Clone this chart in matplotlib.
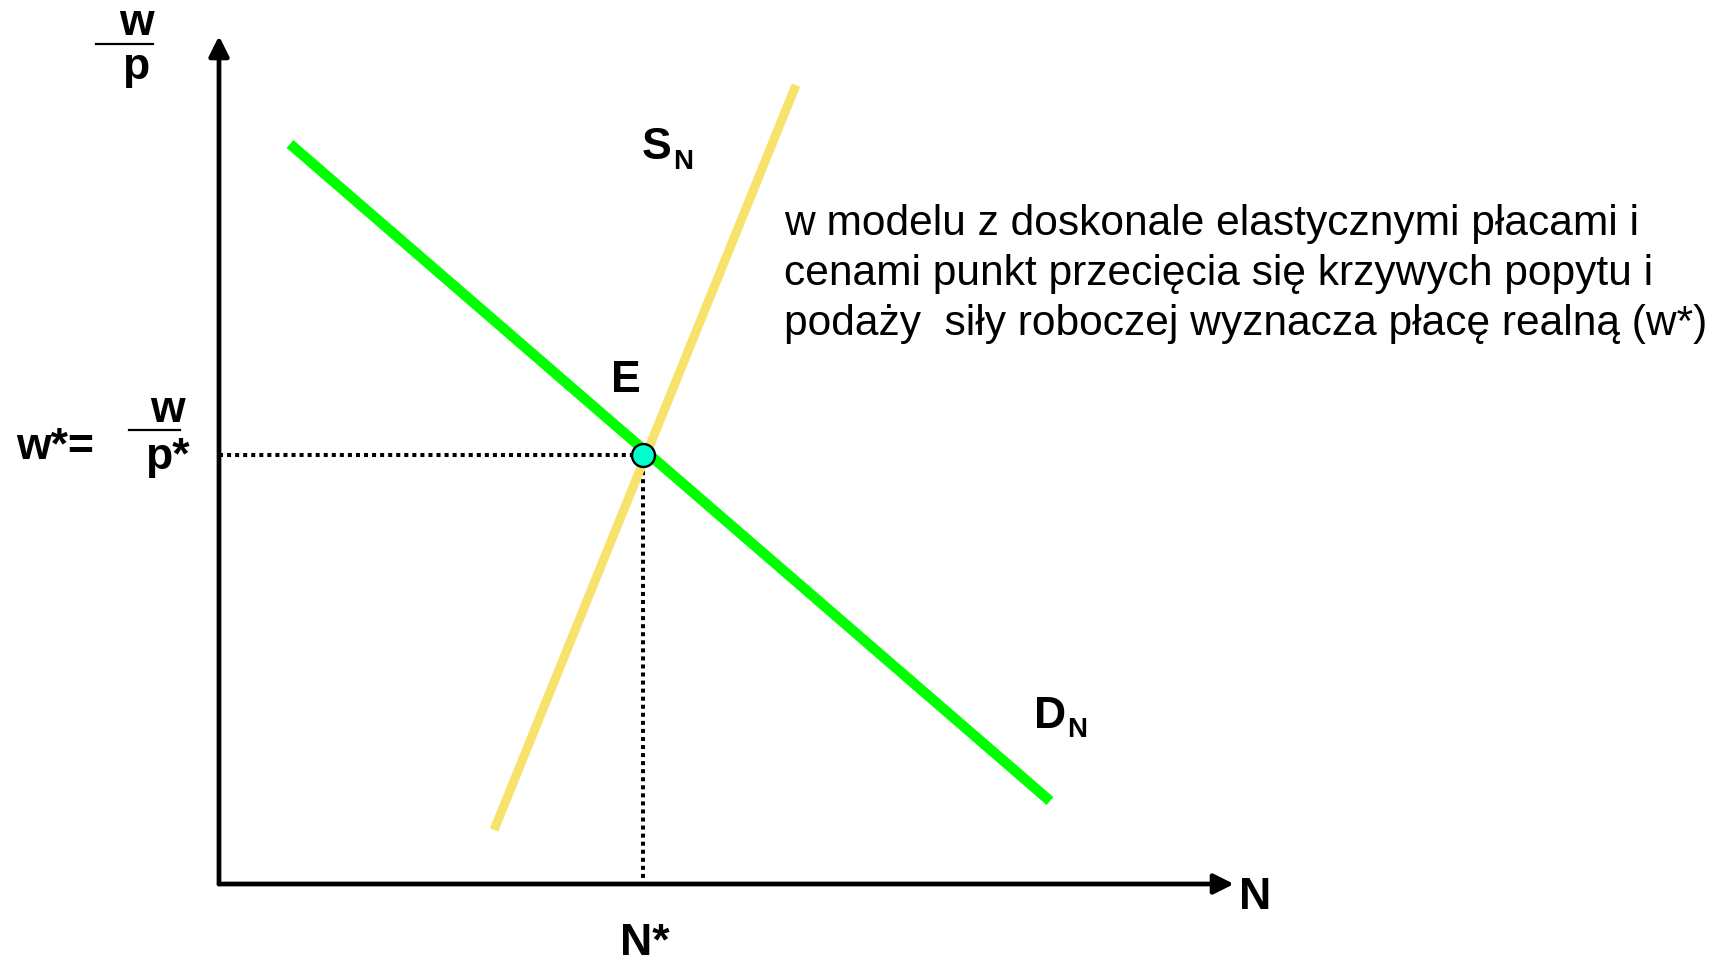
import matplotlib
matplotlib.use("Agg")
import matplotlib.pyplot as plt
import numpy as np

# Data (abstract units; origin at axes corner)
demand_N = [0.71, 8.31]
demand_wp = [7.40, 0.83]
supply_N = [2.75, 5.77]
supply_wp = [0.54, 7.99]
eq_N = 4.24
eq_wp = 4.29
x_axis_end = 10.15
y_axis_end = 8.48

labels_main = {"E": "E", "N": "N", "Nstar": "N*"}
text_block = ("w modelu z doskonale elastycznymi płacami i\n"
              "cenami punkt przecięcia się krzywych popytu i\n"
              "podaży  siły roboczej wyznacza płacę realną (w*)")

fig = plt.figure(figsize=(17.15, 9.63), dpi=100)
ax = fig.add_axes([0, 0, 1, 1])
ax.set_xlim(-2.19, 14.96)
ax.set_ylim(-0.79, 8.84)
ax.axis("off")

bold = dict(family="Liberation Sans", fontweight="bold", color="black")

# axes arrows
ax.annotate("", xy=(x_axis_end, 0), xytext=(0, 0),
            arrowprops=dict(arrowstyle="-|>", lw=3.4, color="black",
                            mutation_scale=30, shrinkA=0, shrinkB=0))
ax.annotate("", xy=(0, y_axis_end), xytext=(0, 0),
            arrowprops=dict(arrowstyle="-|>", lw=3.4, color="black",
                            mutation_scale=30, shrinkA=0, shrinkB=0))

# curves
ax.plot(supply_N, supply_wp, color="#F7E36B", lw=6.5, solid_capstyle="butt", zorder=3)
ax.plot(demand_N, demand_wp, color="#00FF00", lw=7.5, solid_capstyle="butt", zorder=4)

# dotted guides
ax.plot([0, eq_N], [eq_wp, eq_wp], color="black", lw=2.9, linestyle=(0, (1, 1)), zorder=2)
ax.plot([eq_N, eq_N], [eq_wp, 0], color="black", lw=2.9, linestyle=(0, (1, 1)), zorder=2)

# equilibrium point
ax.plot([eq_N], [eq_wp], marker="o", markersize=16.5, markerfacecolor="#00FFCC",
        markeredgecolor="black", markeredgewidth=1.7, zorder=6)

# labels
ax.text(4.07, 5.03, labels_main["E"], fontsize=32, ha="center", va="center", **bold)
ax.text(10.36, -0.13, labels_main["N"], fontsize=32, ha="center", va="center", **bold)
ax.text(4.26, -0.59, labels_main["Nstar"], fontsize=32, ha="center", va="center", **bold)

ax.text(4.38, 7.36, "S", fontsize=32, ha="center", va="center", **bold)
ax.text(4.64, 7.22, "N", fontsize=20, ha="center", va="center", **bold)
ax.text(8.31, 1.68, "D", fontsize=32, ha="center", va="center", **bold)
ax.text(8.58, 1.54, "N", fontsize=20, ha="center", va="center", **bold)

# y-axis label w/p
ax.text(-0.83, 8.60, "w", fontsize=32, ha="center", va="center", **bold)
ax.plot([-1.23, -0.66], [8.40, 8.40], color="black", lw=1.6)
ax.text(-0.83, 8.16, "p", fontsize=32, ha="center", va="center", **bold)

# w* = w/p*
ax.text(-1.64, 4.36, "w*=", fontsize=32, ha="center", va="center", **bold)
ax.text(-0.52, 4.73, "w", fontsize=32, ha="center", va="center", **bold)
ax.plot([-0.90, -0.39], [4.54, 4.54], color="black", lw=1.6)
ax.text(-0.52, 4.27, "p*", fontsize=32, ha="center", va="center", **bold)

# explanatory text
ax.text(5.65, 6.10, text_block, fontsize=30.6, ha="left", va="center",
        family="Liberation Sans", color="black", linespacing=1.32)

fig.savefig("out.png", dpi=100)
